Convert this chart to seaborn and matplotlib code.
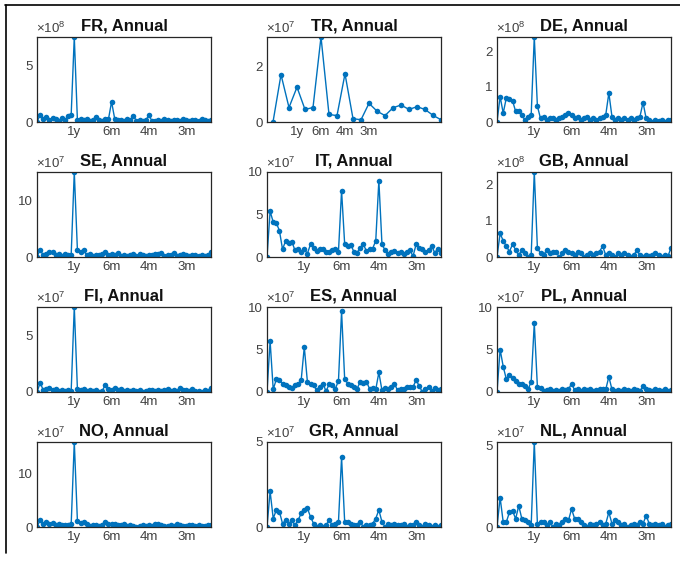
import numpy as np
import pandas as pd
import matplotlib
matplotlib.use("Agg")
import matplotlib.pyplot as plt
import seaborn as sns

# Periodogram of annual-window demand series by country (power, scaled)
countries = ["FR", "TR", "DE", "SE", "IT", "GB", "FI", "ES", "PL", "NO", "GR", "NL"]
exponents = [8, 7, 8, 7, 7, 8, 7, 7, 7, 7, 7, 7]
ytick_sets = [[0, 5], [0, 2], [0, 1, 2], [0, 10], [0, 5, 10], [0, 1, 2],
              [0, 5], [0, 5, 10], [0, 5, 10], [0, 10], [0, 5], [0, 5]]
ymax = [7.56, 3.05, 2.4, 15.0, 10.0, 2.35, 7.57, 10.0, 10.0, 15.9, 5.0, 5.2]

# frequency step (cycles per year) for the monthly-resolution panels and for TR
df_main = 1 / 12
df_tr = 1 / 3

fr = [0.0, 0.65, 0.3, 0.45, 0.15, 0.4, 0.3, 0.1, 0.35, 0.2, 0.5, 0.65, 7.56, 0.2, 0.3,
      0.15, 0.25, 0.1, 0.2, 0.45, 0.2, 0.1, 0.3, 0.25, 1.8, 0.3, 0.15, 0.2, 0.1, 0.25,
      0.15, 0.55, 0.1, 0.2, 0.05, 0.15, 0.6, 0.1, 0.05, 0.2, 0.1, 0.25, 0.15, 0.1, 0.2,
      0.15, 0.1, 0.3, 0.2, 0.1, 0.15, 0.2, 0.1, 0.25, 0.15, 0.05, 0.2]
tr = [0.0, 1.70, 0.52, 1.25, 0.45, 0.52, 3.05, 0.27, 0.23, 1.73, 0.12, 0.08, 0.67,
      0.39, 0.23, 0.51, 0.61, 0.45, 0.55, 0.45, 0.24, 0.08]
de = [0.0, 0.72, 0.25, 0.68, 0.65, 0.6, 0.3, 0.32, 0.2, 0.05, 0.15, 0.2, 2.4, 0.45,
      0.1, 0.15, 0.05, 0.12, 0.1, 0.05, 0.1, 0.15, 0.2, 0.25, 0.2, 0.1, 0.15, 0.05,
      0.1, 0.15, 0.05, 0.1, 0.05, 0.1, 0.15, 0.2, 0.82, 0.15, 0.05, 0.1, 0.05, 0.1,
      0.05, 0.1, 0.05, 0.1, 0.15, 0.55, 0.1, 0.05, 0.0, 0.05, 0.02, 0.05, 0.0, 0.05, 0.05]
se = [0.0, 1.3, 0.3, 0.5, 0.9, 0.8, 0.3, 0.5, 0.2, 0.6, 0.3, 0.4, 15.0, 1.3, 0.8,
      1.2, 0.3, 0.5, 0.2, 0.4, 0.3, 0.5, 0.9, 0.4, 0.6, 0.3, 0.7, 0.2, 0.4, 0.1,
      0.3, 0.6, 0.2, 0.5, 0.3, 0.1, 0.4, 0.3, 0.6, 0.5, 0.7, 0.2, 0.4, 0.3, 0.7,
      0.2, 0.4, 0.5, 0.3, 0.2, 0.4, 0.3, 0.1, 0.4, 0.2, 0.3, 0.8]
it = [0.0, 5.4, 4.1, 4.0, 3.1, 0.9, 1.9, 1.6, 1.8, 0.8, 1.0, 0.6, 0.9, 0.4, 1.5,
      1.1, 0.7, 1.0, 0.9, 0.6, 0.6, 0.8, 1.0, 0.6, 7.8, 1.5, 1.3, 1.4, 0.6, 0.5,
      1.1, 1.5, 0.7, 0.9, 1.0, 1.9, 9.0, 1.5, 0.8, 0.3, 0.6, 0.7, 0.5, 0.6, 0.3,
      0.6, 0.8, 0.1, 1.5, 1.1, 0.9, 0.6, 0.8, 1.3, 0.5, 1.0, 0.5]
gb = [0.0, 0.65, 0.45, 0.3, 0.15, 0.35, 0.2, 0.05, 0.2, 0.1, 0.0, 0.05, 2.35, 0.25,
      0.1, 0.05, 0.2, 0.1, 0.15, 0.15, 0.0, 0.1, 0.2, 0.15, 0.1, 0.05, 0.15, 0.1,
      0.0, 0.05, 0.1, 0.05, 0.1, 0.15, 0.3, 0.05, 0.1, 0.05, 0.0, 0.1, 0.05, 0.1,
      0.05, 0.0, 0.05, 0.18, 0.05, 0.0, 0.05, 0.02, 0.05, 0.1, 0.05, 0.0, 0.05, 0.02, 0.25]
fi = [0.0, 0.8, 0.2, 0.3, 0.4, 0.2, 0.3, 0.1, 0.2, 0.1, 0.15, 0.1, 7.57, 0.3, 0.2,
      0.3, 0.1, 0.2, 0.05, 0.15, 0.0, 0.1, 0.65, 0.3, 0.2, 0.35, 0.15, 0.25, 0.1,
      0.2, 0.05, 0.15, 0.1, 0.2, 0.0, 0.1, 0.2, 0.15, 0.05, 0.2, 0.1, 0.15, 0.3,
      0.1, 0.2, 0.1, 0.35, 0.15, 0.2, 0.1, 0.25, 0.05, 0.1, 0.0, 0.15, 0.1, 0.35]
es = [0.0, 6.0, 0.3, 1.5, 1.4, 1.0, 0.8, 0.6, 0.5, 0.8, 0.9, 1.4, 5.3, 1.2, 1.0,
      0.8, 0.2, 0.6, 1.0, 0.1, 0.9, 0.8, 0.4, 1.3, 9.5, 1.5, 1.0, 0.8, 0.6, 0.4,
      1.2, 1.1, 1.2, 0.4, 0.5, 0.3, 2.3, 0.2, 0.5, 0.4, 0.6, 1.0, 0.2, 0.4, 0.3,
      0.6, 0.6, 0.6, 1.4, 0.7, 0.0, 0.3, 0.6, 0.1, 0.5, 0.2, 0.4]
pl = [0.0, 5.0, 3.0, 1.5, 2.0, 1.6, 1.3, 1.0, 0.9, 0.7, 0.3, 1.2, 8.1, 0.6, 0.5,
      0.1, 0.2, 0.3, 0.1, 0.2, 0.1, 0.3, 0.2, 0.3, 1.0, 0.2, 0.3, 0.1, 0.4, 0.2,
      0.3, 0.1, 0.2, 0.3, 0.4, 0.3, 1.8, 0.3, 0.1, 0.2, 0.1, 0.3, 0.2, 0.1, 0.3,
      0.2, 0.1, 0.7, 0.3, 0.2, 0.1, 0.3, 0.2, 0.1, 0.4, 0.1, 0.2]
no = [0.0, 1.3, 0.5, 0.9, 0.6, 0.7, 0.3, 0.5, 0.4, 0.3, 0.4, 0.5, 15.9, 1.2, 0.7,
      0.9, 0.6, 0.1, 0.3, 0.4, 0.2, 0.3, 0.9, 0.6, 0.5, 0.6, 0.4, 0.3, 0.5, 0.1,
      0.3, 0.2, 0.0, 0.2, 0.3, 0.1, 0.4, 0.2, 0.5, 0.6, 0.3, 0.1, 0.2, 0.4, 0.2,
      0.5, 0.3, 0.2, 0.1, 0.3, 0.4, 0.2, 0.3, 0.1, 0.2, 0.4, 0.3]
gr = [0.0, 2.1, 0.5, 1.0, 0.9, 0.2, 0.4, 0.2, 0.4, 0.1, 0.4, 0.8, 1.0, 1.1, 0.6,
      0.2, 0.0, 0.1, 0.0, 0.1, 0.4, 0.1, 0.2, 0.3, 4.1, 0.3, 0.3, 0.2, 0.1, 0.1,
      0.3, 0.0, 0.1, 0.1, 0.2, 0.5, 1.0, 0.3, 0.0, 0.2, 0.1, 0.2, 0.1, 0.1, 0.2,
      0.0, 0.1, 0.1, 0.3, 0.1, 0.0, 0.2, 0.1, 0.0, 0.1, 0.0, 0.1]
nl = [0.0, 1.8, 0.3, 0.3, 0.9, 1.0, 0.5, 1.3, 0.5, 0.4, 0.3, 0.1, 5.2, 0.2, 0.3,
      0.3, 0.1, 0.3, 0.0, 0.2, 0.1, 0.3, 0.5, 0.4, 1.1, 0.5, 0.5, 0.3, 0.1, 0.0,
      0.2, 0.1, 0.2, 0.3, 0.1, 0.2, 0.9, 0.2, 0.4, 0.3, 0.1, 0.2, 0.0, 0.1, 0.2,
      0.1, 0.3, 0.2, 0.7, 0.2, 0.1, 0.2, 0.1, 0.2, 0.0, 0.1, 0.2]

series = [fr, tr, de, se, it, gb, fi, es, pl, no, gr, nl]

xtick_pos = [1, 2, 3, 4]
xtick_labels = ["1y", "6m", "4m", "3m"]

sns.set_style("white")
plt.rcParams["font.family"] = ["Liberation Sans", "DejaVu Sans"]
plt.rcParams["mathtext.fontset"] = "custom"
plt.rcParams["mathtext.rm"] = "Liberation Sans"

W, H = 680, 561
fig = plt.figure(figsize=(W / 100, H / 100), dpi=100)

col_left = [37, 267, 497]
ax_w = 174
row_top = [37, 172, 307, 442]
ax_h = 85

line_color = "#0072BD"
text_grey = "#404040"

for i, (name, vals) in enumerate(zip(countries, series)):
    r, c = divmod(i, 3)
    ax = fig.add_axes([col_left[c] / W, 1 - (row_top[r] + ax_h) / H, ax_w / W, ax_h / H])
    step = df_tr if name == "TR" else df_main
    freq = np.arange(len(vals)) * step
    data = pd.DataFrame({"freq": freq, "power": vals})
    sns.lineplot(data=data, x="freq", y="power", ax=ax, color=line_color,
                 linewidth=1.0, marker="o", markersize=4.0, markeredgewidth=0,
                 estimator=None)
    if name == "TR":
        ax.set_xlim(-0.25, freq[-1])
    else:
        ax.set_xlim(0, freq[-1])
    ax.set_ylim(0, ymax[i])
    ax.set_xticks(xtick_pos)
    ax.set_xticklabels(xtick_labels)
    ax.set_yticks(ytick_sets[i])
    ax.set_yticklabels([str(t) for t in ytick_sets[i]])
    ax.set_xlabel("")
    ax.set_ylabel("")
    ax.tick_params(direction="in", length=2.5, width=0.6, colors="#262626",
                   labelcolor=text_grey, labelsize=9.5, pad=3)
    for s in ax.spines.values():
        s.set_visible(True)
        s.set_color("#262626")
        s.set_linewidth(0.9)
    ax.set_title(f"{name}, Annual", fontweight="bold", fontsize=12, pad=5.0,
                 color="#111111")
    ax.annotate(r"$\mathregular{\times10^{%d}}$" % exponents[i], xy=(0, 1),
                xycoords="axes fraction", xytext=(-1, 4), textcoords="offset pixels",
                ha="left", va="baseline", fontsize=9.5, color=text_grey)

# outer frame lines (top and left)
fig.add_artist(plt.Line2D([5 / W, 1.0], [1 - 5 / H, 1 - 5 / H], color="black",
                          linewidth=1.2, transform=fig.transFigure))
fig.add_artist(plt.Line2D([6 / W, 6 / W], [1 - 5 / H, 1 - 553 / H], color="black",
                          linewidth=1.2, transform=fig.transFigure))

fig.savefig("out.png", dpi=100)
